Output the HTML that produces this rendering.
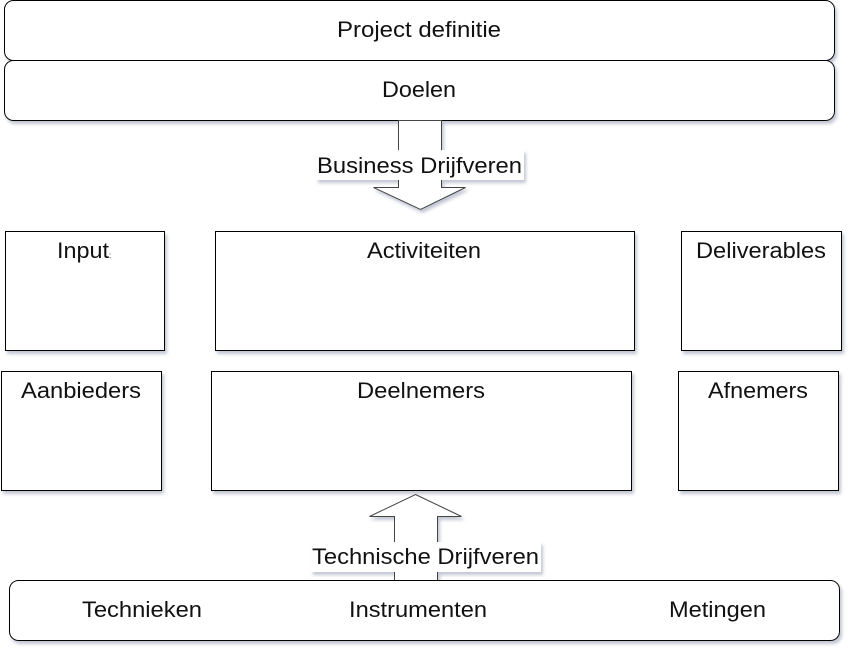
<!DOCTYPE html>
<html><head><style>html,body{margin:0;padding:0;background:#fff}svg{display:block}text{font-family:"Liberation Sans",Arial,sans-serif;font-size:22px;fill:#111}</style></head>
<body>
<svg width="853" height="652" viewBox="0 0 853 652" xmlns="http://www.w3.org/2000/svg">
<defs><filter id="s" x="-5%" y="-5%" width="115%" height="115%"><feDropShadow dx="2" dy="3" stdDeviation="1.5" flood-color="#9aa0b4" flood-opacity="0.6"/></filter></defs>
<g fill="#fff" stroke="#000" stroke-width="1" filter="url(#s)">
<rect x="4.5" y="0.5" width="830" height="60" rx="9"/>
<rect x="4.5" y="60.5" width="830" height="60" rx="9"/>
<polygon points="398.5,120.5 441.5,120.5 441.5,187.5 465.5,187.5 420.5,209.5 373.5,187.5 398.5,187.5" stroke="#444"/>
<rect x="5.5" y="231.5" width="159" height="119"/>
<rect x="215.5" y="231.5" width="419" height="119"/>
<rect x="681.5" y="231.5" width="160" height="119"/>
<rect x="1.5" y="371.5" width="160" height="119"/>
<rect x="211.5" y="371.5" width="420" height="119"/>
<rect x="678.5" y="371.5" width="160" height="119"/>
<polygon points="415.5,494.5 461.5,516.5 437.5,516.5 437.5,580.5 394.5,580.5 394.5,516.5 369.5,516.5" stroke="#444"/>
<rect x="9.5" y="580.5" width="830" height="60" rx="9"/>
<rect x="316" y="150" width="208" height="30" stroke="none"/>
<rect x="311" y="542" width="230" height="30" stroke="none"/>
</g>
<g>
<text x="337" y="37" textLength="164" lengthAdjust="spacingAndGlyphs">Project definitie</text>
<text x="382" y="97" textLength="74" lengthAdjust="spacingAndGlyphs">Doelen</text>
<text x="317" y="173" textLength="205" lengthAdjust="spacingAndGlyphs">Business Drijfveren</text>
<text x="57" y="258" textLength="52" lengthAdjust="spacingAndGlyphs">Input</text><text x="109" y="258" style="font-size:8px">:</text>
<text x="367" y="258" textLength="114" lengthAdjust="spacingAndGlyphs">Activiteiten</text>
<text x="696" y="258" textLength="130" lengthAdjust="spacingAndGlyphs">Deliverables</text>
<text x="21" y="398" textLength="120" lengthAdjust="spacingAndGlyphs">Aanbieders</text>
<text x="357" y="398" textLength="128" lengthAdjust="spacingAndGlyphs">Deelnemers</text>
<text x="708" y="398" textLength="100" lengthAdjust="spacingAndGlyphs">Afnemers</text>
<text x="312" y="564" textLength="227" lengthAdjust="spacingAndGlyphs">Technische Drijfveren</text>
<text x="82" y="617" textLength="120" lengthAdjust="spacingAndGlyphs">Technieken</text>
<text x="349" y="617" textLength="138" lengthAdjust="spacingAndGlyphs">Instrumenten</text>
<text x="669" y="617" textLength="97" lengthAdjust="spacingAndGlyphs">Metingen</text>
</g>
</svg>
</body></html>
